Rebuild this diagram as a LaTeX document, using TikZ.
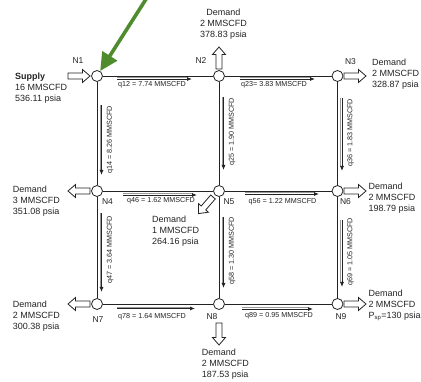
\documentclass[tikz,border=0pt]{standalone}
\usepackage{fontspec}
\setmainfont{Liberation Sans}
\usetikzlibrary{arrows.meta,calc}
\definecolor{pointergreen}{RGB}{78,140,46}
\definecolor{ink}{RGB}{35,35,35}
\begin{document}
\begin{tikzpicture}[x=1pt,y=-1pt,
  pipe/.style={draw=ink, line width=0.9pt},
  junction/.style={circle, draw=ink, fill=white, line width=0.8pt, minimum size=11pt, inner sep=0pt},
  nodelabel/.style={font=\fontsize{8.5}{10}\selectfont, text=ink, inner sep=0pt},
  info/.style={font=\fontsize{9}{11}\selectfont, text=ink, align=left, inner sep=0pt},
  hflow/.style={draw=ink, line width=0.8pt, -{Latex[length=5pt,width=4pt]},
    preaction={draw=black!40, line width=0.8pt, -, shorten >=4pt, transform canvas={yshift=1.3pt}}},
  vflow/.style={draw=ink, line width=0.8pt, -{Latex[length=5pt,width=4pt]},
    preaction={draw=black!40, line width=0.8pt, -, shorten >=4pt, transform canvas={xshift=-1.3pt}}},
  flowlabel/.style={font=\fontsize{7.2}{8}\selectfont, text=ink, inner sep=0pt},
  hollow/.style={draw=ink, fill=white, line width=0.8pt, line join=miter},
  pointer/.style={draw=pointergreen, line width=3.6pt, -{Triangle[length=18pt,width=17pt]}},
  pics/blockarrow/.style={code={
    \draw[hollow] (0,-3) -- (14.5,-3) -- (14.5,-6.5) -- (22,0) -- (14.5,6.5) -- (14.5,3) -- (0,3) -- cycle;}}
]
\useasboundingbox (0,0) rectangle (421,382);

% junctions of the 3x3 pipe grid
\node[junction] (N1) at (97,76) {};
\node[junction] (N2) at (219,76) {};
\node[junction] (N3) at (337.5,76) {};
\node[junction] (N4) at (97,191) {};
\node[junction] (N5) at (219,191) {};
\node[junction] (N6) at (337.5,191) {};
\node[junction] (N7) at (97,304) {};
\node[junction] (N8) at (219,304) {};
\node[junction] (N9) at (337.5,304) {};

% pipes
\draw[pipe] (N1) -- (N2);
\draw[pipe] (N2) -- (N3);
\draw[pipe] (N4) -- (N5);
\draw[pipe] (N5) -- (N6);
\draw[pipe] (N7) -- (N8);
\draw[pipe] (N8) -- (N9);
\draw[pipe] (N1) -- (N4);
\draw[pipe] (N4) -- (N7);
\draw[pipe] (N2) -- (N5);
\draw[pipe] (N5) -- (N8);
\draw[pipe] (N3) -- (N6);
\draw[pipe] (N6) -- (N9);

% junction names
\node[nodelabel] (lN1) at (78,61) {N1};
\node[nodelabel] (lN2) at (201,61) {N2};
\node[nodelabel] (lN3) at (350.5,61.5) {N3};
\node[nodelabel] (lN4) at (107.5,201.5) {N4};
\node[nodelabel] (lN5) at (229,201.5) {N5};
\node[nodelabel] (lN6) at (345.5,201.5) {N6};
\node[nodelabel] (lN7) at (98,320) {N7};
\node[nodelabel] (lN8) at (212,317) {N8};
\node[nodelabel] (lN9) at (341,317) {N9};

% horizontal flows
\draw[hflow] ($(N1)+(20,3)$) -- ($(N2)+(-27,3)$);
\node[flowlabel] (f12) at ($(N1)+(55,8.5)$) {q12 = 7.74 MMSCFD};
\draw[hflow] ($(N2)+(21,3)$) -- ($(N3)+(-22.5,3)$);
\node[flowlabel] (f23) at ($(N2)+(55,9)$) {q23= 3.83 MMSCFD};
\draw[hflow] ($(N4)+(26,4)$) -- ($(N5)+(-22,4)$);
\node[flowlabel] (f46) at ($(N4)+(64,10)$) {q46 = 1.62 MMSCFD};
\draw[hflow] ($(N5)+(26,3)$) -- ($(N6)+(-18.5,3)$);
\node[flowlabel] (f56) at ($(N5)+(63.5,11)$) {q56 = 1.22 MMSCFD};
\draw[hflow] ($(N7)+(20,4.5)$) -- ($(N8)+(-24,4.5)$);
\node[flowlabel] (f78) at ($(N7)+(55,13)$) {q78 = 1.64 MMSCFD};
\draw[hflow] ($(N8)+(23,5)$) -- ($(N9)+(-24.5,5)$);
\node[flowlabel] (f89) at ($(N8)+(60,12)$) {q89 = 0.95 MMSCFD};

% vertical flows
\draw[vflow] ($(N1)+(4.5,29)$) -- ($(N4)+(4.5,-16)$);
\node[flowlabel, rotate=90] (f14) at ($(N1)+(13,64)$) {q14 = 8.26 MMSCFD};
\draw[vflow] ($(N2)+(4.5,21)$) -- ($(N5)+(4.5,-21)$);
\node[flowlabel, rotate=90] (f25) at ($(N2)+(13,56)$) {q25 = 1.90 MMSCFD};
\draw[vflow] ($(N3)+(4.5,22)$) -- ($(N6)+(4.5,-20)$);
\node[flowlabel, rotate=90] (f36) at ($(N3)+(13,57)$) {q36 = 1.83 MMSCFD};
\draw[vflow] ($(N4)+(4.5,22)$) -- ($(N7)+(4.5,-12)$);
\node[flowlabel, rotate=90] (f47) at ($(N4)+(13,59)$) {q47 = 3.64 MMSCFD};
\draw[vflow] ($(N5)+(4.5,26)$) -- ($(N8)+(4.5,-16)$);
\node[flowlabel, rotate=90] (f58) at ($(N5)+(13,60)$) {q58 = 1.30 MMSCFD};
\draw[vflow] ($(N6)+(4.5,29)$) -- ($(N9)+(4.5,-17)$);
\node[flowlabel, rotate=90] (f69) at ($(N6)+(13,61)$) {q69 = 1.05 MMSCFD};

% supply and demand block arrows
\pic at ($(N1)+(-29,0)$) {blockarrow};
\pic[rotate=90] at ($(N2)+(0,-7)$) {blockarrow};
\pic at ($(N3)+(6.5,0)$) {blockarrow};
\pic[rotate=180] at ($(N4)+(-7,0)$) {blockarrow};
\pic[rotate=-131] at ($(N5)+(-6,6)$) {blockarrow};
\pic at ($(N6)+(6.5,0)$) {blockarrow};
\pic[rotate=180] at ($(N7)+(-7,0)$) {blockarrow};
\pic[rotate=-90] at ($(N8)+(0,19)$) {blockarrow};
\pic at ($(N9)+(6.5,0)$) {blockarrow};

% supply and demand data
\node[info, anchor=north west] (s1) at (15,72.7) {\textbf{Supply}\\16 MMSCFD\\536.11 psia};
\node[info, align=center, anchor=north] (d2) at (223.5,8.7) {Demand\\2 MMSCFD\\378.83 psia};
\node[info, anchor=north west] (d3) at (372,58.4) {Demand\\2 MMSCFD\\328.87 psia};
\node[info, anchor=north west] (d4) at (12.7,186) {Demand\\3 MMSCFD\\351.08 psia};
\node[info, anchor=north west] (d5) at (152,216) {Demand\\1 MMSCFD\\264.16 psia};
\node[info, anchor=north west] (d6) at (368.3,182.5) {Demand\\2 MMSCFD\\198.79 psia};
\node[info, anchor=north west] (d7) at (12.7,301) {Demand\\2 MMSCFD\\300.38 psia};
\node[info, anchor=north west] (d8) at (201.7,348.4) {Demand\\2 MMSCFD\\187.53 psia};
\node[info, anchor=north west] (d9) at (368.3,289.4) {Demand\\2 MMSCFD\\P\textsubscript{sp}=130 psia};

% highlight pointer onto the supply junction
\coordinate (pointertail) at (148,-4);
\draw[pointer] (pointertail) -- (N1);
\end{tikzpicture}
\end{document}
